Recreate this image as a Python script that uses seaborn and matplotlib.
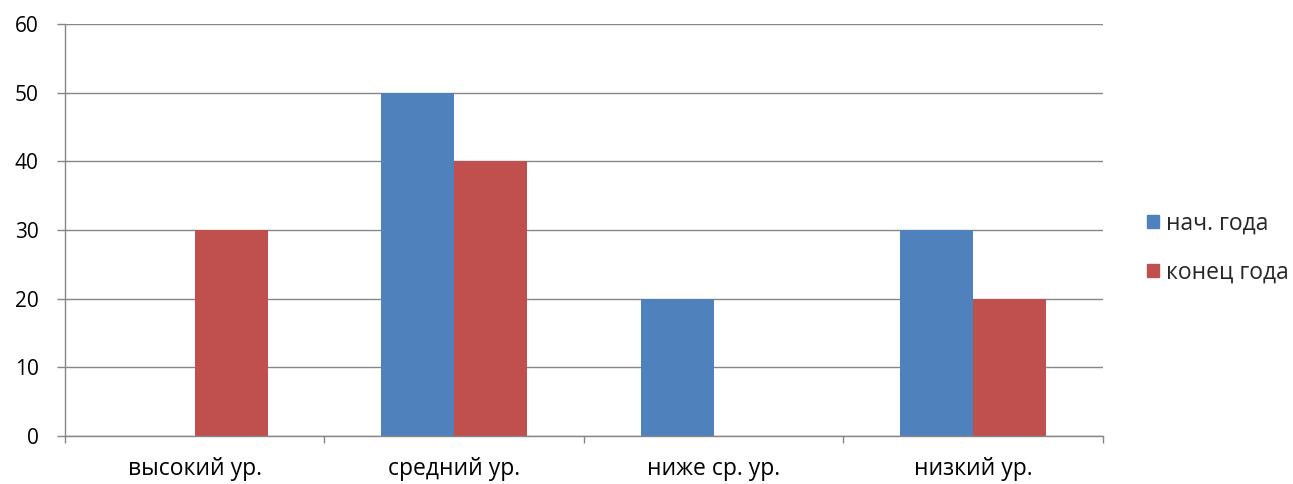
import pandas as pd
import matplotlib.pyplot as plt
import matplotlib.patches as mpatches
import seaborn as sns

categories = ['высокий ур.', 'средний ур.', 'ниже ср. ур.', 'низкий ур.']
series = ['нач. года', 'конец года']
start_values = [0, 50, 20, 30]
end_values = [30, 40, 0, 20]
y_ticks = [0, 10, 20, 30, 40, 50, 60]
colors = ['#4F81BD', '#C0504D']

data = pd.DataFrame({
    'category': categories * 2,
    'value': start_values + end_values,
    'series': [series[0]] * len(categories) + [series[1]] * len(categories),
})

sns.set_style('white')
plt.rcParams['font.family'] = ['Open Sans', 'DejaVu Sans']

fig = plt.figure(figsize=(12.93, 4.84), dpi=100)
ax = fig.add_axes([0.0503, 0.0992, 0.8026, 0.8512])

sns.barplot(data=data, x='category', y='value', hue='series', order=categories,
            hue_order=series, palette=colors, width=0.5625, linewidth=0,
            saturation=1, ax=ax, legend=False)

grid_color = '#868686'
ax.set_ylim(0, 60)
ax.set_xlim(-0.5, len(categories) - 0.5)
ax.set_yticks(y_ticks)
ax.yaxis.grid(True, color=grid_color, linewidth=1)
ax.set_axisbelow(True)
for side in ['top', 'right']:
    ax.spines[side].set_visible(False)
for side in ['left', 'bottom']:
    ax.spines[side].set_color(grid_color)
    ax.spines[side].set_linewidth(1)

ax.set_xticks(range(len(categories)))
ax.set_xticklabels(categories)
ax.set_xticks([i - 0.5 for i in range(len(categories) + 1)], minor=True)
ax.tick_params(axis='x', which='major', length=0, pad=15, labelsize=16.5, labelcolor='black')
ax.tick_params(axis='x', which='minor', length=5, width=1, color=grid_color, direction='out', bottom=True)
ax.tick_params(axis='y', length=6, width=1, color=grid_color, direction='out', left=True, pad=13,
               labelsize=15, labelcolor='black')
ax.set_xlabel('')
ax.set_ylabel('')

handles = [mpatches.Patch(color=c, label=s) for c, s in zip(colors, series)]
fig.legend(handles=handles, loc='center left', bbox_to_anchor=(0.8715, 0.488),
           frameon=False, fontsize=16.5, handlelength=0.5, handleheight=0.5,
           handletextpad=0.3, labelspacing=1.1)

fig.savefig('out.png', dpi=100)
